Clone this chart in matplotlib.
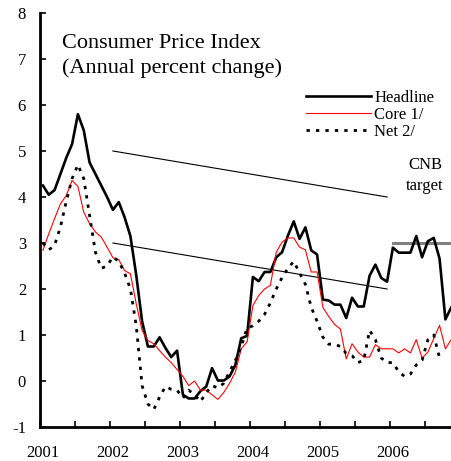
import numpy as np
import matplotlib.pyplot as plt

plt.rcParams['font.family'] = 'Liberation Serif'
plt.rcParams['axes.unicode_minus'] = False

# monthly y/y inflation, Jan 2001 - Nov 2006
headline = [4.25, 4.05, 4.15, 4.5, 4.85, 5.15, 5.8, 5.45, 4.75, 4.5, 4.25, 4.0,
            3.72, 3.89, 3.56, 3.15, 2.3, 1.3, 0.75, 0.75, 0.95, 0.72, 0.52, 0.66,
            -0.3, -0.38, -0.38, -0.22, -0.12, 0.28, 0.01, 0.01, 0.1, 0.35, 0.93, 0.98,
            2.26, 2.17, 2.37, 2.37, 2.69, 2.8, 3.16, 3.47, 3.09, 3.34, 2.84, 2.75,
            1.77, 1.75, 1.66, 1.66, 1.37, 1.81, 1.62, 1.62, 2.29, 2.53, 2.24, 2.16,
            2.9, 2.79, 2.79, 2.79, 3.15, 2.69, 3.04, 3.11, 2.66, 1.34, 1.6]
core = [2.84, 3.2, 3.53, 3.85, 4.03, 4.36, 4.23, 3.67, 3.42, 3.24, 3.13, 2.91,
        2.68, 2.64, 2.4, 2.33, 1.68, 1.1, 0.88, 0.81, 0.66, 0.52, 0.4, 0.25,
        0.1, -0.1, 0.0, -0.2, -0.2, -0.3, -0.4, -0.25, -0.05, 0.2, 0.7, 0.85,
        1.64, 1.86, 2.0, 2.08, 2.8, 3.02, 3.11, 3.11, 2.91, 2.85, 2.37, 2.37,
        1.6, 1.4, 1.23, 1.13, 0.48, 0.81, 0.63, 0.52, 0.52, 0.79, 0.7, 0.7,
        0.7, 0.61, 0.7, 0.61, 0.9, 0.5, 0.63, 0.92, 1.21, 0.7, 0.9]
net = [3.0, 2.85, 2.95, 3.35, 3.9, 4.4, 4.7, 4.4, 3.6, 2.8, 2.45, 2.5,
       2.7, 2.6, 2.35, 2.0, 1.2, -0.1, -0.5, -0.62, -0.35, -0.12, -0.18, -0.2,
       -0.37, -0.2, -0.3, -0.45, -0.25, -0.1, -0.15, -0.05, 0.2, 0.45, 0.75, 1.15,
       1.2, 1.3, 1.45, 1.7, 2.0, 2.25, 2.45, 2.6, 2.35, 2.1, 1.6, 1.3,
       0.95, 0.8, 0.8, 0.75, 0.6, 0.55, 0.4, 0.45, 1.1, 0.9, 0.5, 0.4,
       0.4, 0.2, 0.1, 0.15, 0.35, 0.45, 0.9, 1.0, 0.5]

# CNB target band 2002-2005 (start Jan 2002, end Dec 2005) and 2006 point target
band_months = [12, 59]
band_upper = [5.0, 4.0]
band_lower = [3.0, 2.0]
target_2006 = 3.0
target_2006_months = [60, 70]

years = ['2001', '2002', '2003', '2004', '2005', '2006']

fig = plt.figure(figsize=(4.52, 4.61), dpi=100)
ax = fig.add_axes([40/452, 34/461, 412/452, 414/461])

def pos(n):
    return np.arange(n) + 0.5

ax.plot(np.array(band_months) + 0.5, band_upper, color='black', lw=0.8)
ax.plot(np.array(band_months) + 0.5, band_lower, color='black', lw=0.8)
ax.plot(np.array(target_2006_months) + 0.5, [target_2006]*2, color='#808080', lw=2.2)

ax.plot(pos(len(headline)), headline, color='black', lw=1.9, label='Headline')
ax.plot(pos(len(core)), core, color='red', lw=0.8, label='Core 1/')
ax.plot(pos(len(net)), net, color='black', lw=2.0, linestyle=(0, (1.2, 2.2)), label='Net 2/')

ax.set_xlim(0, 70.63)
ax.set_ylim(-1, 8)
ax.set_yticks(range(-1, 9))
ax.set_xticks(np.arange(0, 71, 6))
ax.set_xticklabels([])
ax.set_xticks(np.arange(len(years)) * 12 + 0.5, minor=True)
ax.set_xticklabels(years, minor=True)
ax.tick_params(axis='x', which='major', direction='in', length=4, width=1.2)
ax.tick_params(axis='x', which='minor', length=0, pad=13, labelsize=12)
ax.tick_params(axis='y', direction='in', length=4, width=1.2, pad=10, labelsize=12)

for s in ['top', 'right']:
    ax.spines[s].set_visible(False)
for s in ['left', 'bottom']:
    ax.spines[s].set_linewidth(2)

ax.legend(loc='upper left', bbox_to_anchor=(266/412, 1 - 77/414), frameon=False,
          fontsize=12, handlelength=3.9, handletextpad=0.2, labelspacing=0.05,
          borderaxespad=0, borderpad=0)

fig.text(62/452, 1 - 44/461, 'Consumer Price Index', fontsize=16, va='center', ha='left')
fig.text(62/452, 1 - 68/461, '(Annual percent change)', fontsize=16, va='center', ha='left')
fig.text(425/452, 1 - 165/461, 'CNB', fontsize=12, va='center', ha='center')
fig.text(425/452, 1 - 186/461, 'target', fontsize=12, va='center', ha='center')

plt.savefig('out.png', dpi=100)
